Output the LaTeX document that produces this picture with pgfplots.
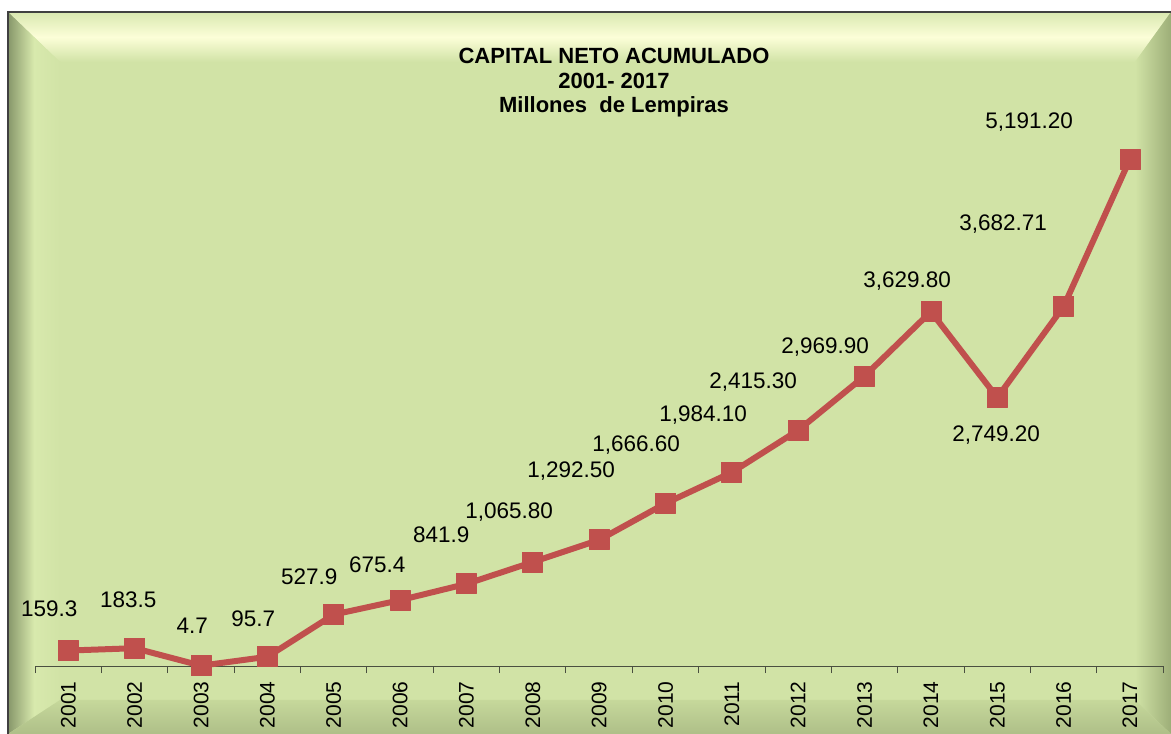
\documentclass[border=0pt]{standalone}
\usepackage{fontspec}
\setmainfont{Liberation Sans}
\usepackage{pgfplots}
\pgfplotsset{compat=1.18}
\definecolor{bg}{HTML}{D1E3A6}
\definecolor{linered}{HTML}{C0504D}
\definecolor{axisgray}{HTML}{4A4F40}
\definecolor{toptop}{HTML}{D9E8B0}
\definecolor{topmid}{HTML}{FCFED8}
\definecolor{leftdark}{HTML}{87976A}
\definecolor{leftlight}{HTML}{D8E9AD}
\definecolor{rightdark}{HTML}{9DAE78}
\definecolor{bottop}{HTML}{C6D89B}
\definecolor{botbot}{HTML}{AEBF88}
\begin{document}
\begin{tikzpicture}[x=1pt,y=1pt]
\useasboundingbox (0,0) rectangle (1171,734);
\fill[white] (0,0) rectangle (1171,734);
\fill[bg] (8,0) rectangle (1171,722);
% bevel
\shade[top color=toptop, bottom color=bg, middle color=topmid] (8,722) -- (1171,722) -- (1135,672) -- (60,672) -- cycle;
\shade[left color=leftdark, right color=bg, middle color=leftlight] (8,722) -- (60,672) -- (60,34) -- (8,0) -- cycle;
\shade[left color=bg, right color=rightdark] (1171,722) -- (1135,672) -- (1135,34) -- (1171,0) -- cycle;
\shade[top color=bottop, bottom color=botbot] (8,0) -- (60,34) -- (1135,34) -- (1171,0) -- cycle;
\draw[line width=1.5, black!75] (8,0) -- (8,722) -- (1171,722);
\begin{axis}[
  at={(53,69.5)}, anchor=south west,
  scale only axis, width=1128pt, height=586pt,
  xmin=0.5, xmax=17.5, ymin=0, ymax=6000,
  axis y line=none, axis x line*=bottom,
  x axis line style={-, draw=axisgray, line width=1pt},
  xtick={1,2,...,17},
  xticklabels={2001,2002,2003,2004,2005,2006,2007,2008,2009,2010,2011,2012,2013,2014,2015,2016,2017},
  major tick length=0pt,
  minor xtick={0.5,1.5,...,17.5},
  minor tick length=7pt,
  minor x tick style={draw=axisgray, line width=1pt},
  tick align=outside,
  xticklabel style={rotate=90, anchor=east, inner sep=0pt, font=\fontsize{21}{24}\selectfont},
  xticklabel shift=15pt,
  clip=false,
]
\addplot[color=linered, line width=6pt, line join=round, mark=square*, mark size=10pt,
  mark options={solid, fill=linered, draw=linered, line width=0.8pt}]
coordinates {
(1,159.3) (2,183.5) (3,4.7) (4,95.7) (5,527.9) (6,675.4) (7,841.9) (8,1065.8)
(9,1292.5) (10,1666.6) (11,1984.1) (12,2415.3) (13,2969.9) (14,3629.8)
(15,2749.2) (16,3682.71) (17,5191.2)
};
\addplot[draw=none, mark=none, nodes near coords, point meta=explicit symbolic,
  every node near coord/.append style={anchor=center, text=black, inner sep=0pt, font=\fontsize{22.5}{24}\selectfont}]
table[meta=label] {
x y label
0.711 589 159.3
1.902 681 183.5
2.866 415 4.7
3.786 486 95.7
4.630 916 527.9
5.654 1039 675.4
6.619 1346 841.9
7.644 1582 1,065.80
8.578 2002 1,292.50
9.558 2268 1,666.60
10.568 2575 1,984.10
11.321 2913 2,415.30
12.406 3271 2,969.90
13.642 3947 3,629.80
14.984 2370 2,749.20
15.089 4531 3,682.71
15.481 5575 5,191.20
};
\end{axis}
\node[align=center, font=\bfseries\fontsize{22}{24.5}\selectfont] at (614,651)
  {CAPITAL NETO ACUMULADO\\2001- 2017\\Millones\ \ de Lempiras};
\end{tikzpicture}
\end{document}
